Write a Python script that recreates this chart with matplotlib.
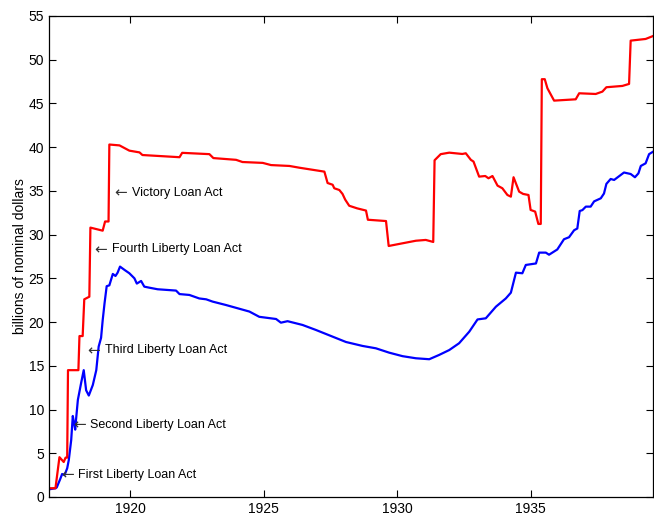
import numpy as np
import matplotlib
matplotlib.use("Agg")
import matplotlib.pyplot as plt

plt.rcParams['font.family'] = ['Liberation Sans', 'DejaVu Sans']

# debt limit (red)
limit_years = [1917.0, 1917.19, 1917.34, 1917.5, 1917.57, 1917.63, 1917.66, 1918.05, 1918.09,
               1918.21, 1918.27, 1918.46, 1918.5, 1918.96, 1919.05, 1919.18, 1919.21, 1919.59,
               1919.96, 1920.34, 1920.45, 1921.84, 1921.94, 1922.96, 1923.11, 1923.96, 1924.2,
               1924.96, 1925.27, 1925.96, 1926.33, 1927.27, 1927.39, 1927.58, 1927.64, 1927.83,
               1927.95, 1928.05, 1928.2, 1928.5, 1928.83, 1928.9, 1929.58, 1929.68, 1930.07,
               1930.7, 1931.07, 1931.35, 1931.4, 1931.63, 1931.95, 1932.44, 1932.57, 1932.76,
               1932.86, 1933.07, 1933.3, 1933.42, 1933.57, 1933.76, 1933.94, 1934.13, 1934.26,
               1934.36, 1934.57, 1934.72, 1934.92, 1935.0, 1935.17, 1935.29, 1935.38, 1935.42,
               1935.53, 1935.63, 1935.88, 1936.69, 1936.82, 1937.44, 1937.69, 1937.84, 1938.44,
               1938.69, 1938.75, 1939.31, 1939.6]
limit_vals = [1.0, 1.0, 4.55, 4.0, 4.5, 4.5, 14.5, 14.5, 18.4,
              18.4, 22.6, 22.9, 30.8, 30.45, 31.5, 31.5, 40.3, 40.2,
              39.6, 39.4, 39.1, 38.85, 39.35, 39.2, 38.75, 38.55, 38.3,
              38.2, 37.95, 37.85, 37.65, 37.2, 35.9, 35.7, 35.3, 35.1,
              34.65, 34.0, 33.3, 33.0, 32.75, 31.7, 31.55, 28.7, 28.93,
              29.3, 29.39, 29.16, 38.5, 39.2, 39.37, 39.22, 39.3, 38.55,
              38.35, 36.63, 36.7, 36.44, 36.7, 35.6, 35.3, 34.53, 34.34,
              36.56, 34.91, 34.65, 34.53, 32.82, 32.63, 31.22, 31.22, 47.77,
              47.77, 46.73, 45.32, 45.47, 46.16, 46.08, 46.35, 46.85, 47.0,
              47.23, 52.18, 52.37, 52.72]

# outstanding debt (blue)
debt_years = [1917.0, 1917.2, 1917.24, 1917.37, 1917.44, 1917.53, 1917.63, 1917.69, 1917.78,
              1917.84, 1917.89, 1917.93, 1917.96, 1918.03, 1918.15, 1918.25, 1918.34, 1918.44,
              1918.59, 1918.72, 1918.81, 1918.9, 1918.96, 1919.03, 1919.11, 1919.21, 1919.34,
              1919.44, 1919.52, 1919.61, 1919.78, 1919.96, 1920.15, 1920.24, 1920.4, 1920.52,
              1920.71, 1921.02, 1921.71, 1921.84, 1922.21, 1922.58, 1922.84, 1923.08, 1923.58,
              1924.46, 1924.83, 1925.46, 1925.64, 1925.89, 1926.45, 1926.95, 1927.58, 1928.08,
              1928.7, 1929.2, 1929.7, 1930.2, 1930.7, 1931.2, 1931.57, 1931.95, 1932.32,
              1932.7, 1933.01, 1933.32, 1933.7, 1934.07, 1934.26, 1934.45, 1934.69, 1934.82,
              1935.2, 1935.32, 1935.57, 1935.69, 1936.0, 1936.25, 1936.44, 1936.63, 1936.75,
              1936.84, 1936.94, 1937.07, 1937.25, 1937.38, 1937.63, 1937.75, 1937.84, 1938.0,
              1938.13, 1938.5, 1938.75, 1938.91, 1939.04, 1939.13, 1939.31, 1939.44, 1939.6]
debt_vals = [0.9, 1.0, 1.1, 2.06, 2.63, 2.5, 3.28, 4.23, 6.5,
             9.26, 8.4, 7.7, 8.8, 11.1, 13.0, 14.5, 12.2, 11.6,
             12.8, 14.5, 17.2, 18.2, 20.2, 22.15, 24.1, 24.2, 25.5,
             25.27, 25.65, 26.34, 25.96, 25.58, 25.0, 24.4, 24.7, 24.05,
             23.93, 23.75, 23.6, 23.2, 23.1, 22.7, 22.6, 22.34, 21.95,
             21.2, 20.6, 20.35, 19.93, 20.1, 19.67, 19.1, 18.33, 17.72,
             17.27, 17.0, 16.5, 16.1, 15.86, 15.75, 16.24, 16.8, 17.58,
             18.9, 20.3, 20.43, 21.76, 22.7, 23.36, 25.65, 25.58, 26.53,
             26.7, 27.94, 27.94, 27.7, 28.3, 29.47, 29.7, 30.5, 30.7,
             32.7, 32.8, 33.2, 33.2, 33.8, 34.15, 34.7, 35.8, 36.36,
             36.25, 37.1, 36.93, 36.56, 37.0, 37.85, 38.15, 39.2, 39.5]

# annotations: label and the point the arrow starts at
act_labels = ["First Liberty Loan Act", "Second Liberty Loan Act", "Third Liberty Loan Act",
              "Fourth Liberty Loan Act", "Victory Loan Act"]
act_years = [1917.4, 1917.84, 1918.4, 1918.65, 1919.4]
act_vals = [2.55, 8.25, 16.75, 28.3, 34.8]


def main():
    fig = plt.figure(figsize=(6.54, 5.15), dpi=100)
    ax = fig.add_axes([0.075, 0.035, 0.924, 0.934])

    ax.plot(debt_years, debt_vals, color='#0000FF', lw=1.6)
    ax.plot(limit_years, limit_vals, color='#FF0000', lw=1.6)

    for lab, x, y in zip(act_labels, act_years, act_vals):
        # long thin arrow like matlab's \leftarrow, then the label
        ax.text(x, y, "\u2190", fontsize=11, va='center', ha='left', family='DejaVu Sans',
                color='#333333')
        ax.annotate(lab, xy=(x, y), xytext=(12.5, 0), textcoords='offset points',
                    fontsize=9, va='center', ha='left')

    ax.set_xlim(1916.95, 1939.6)
    ax.set_ylim(0, 55)
    ax.set_xticks([1920, 1925, 1930, 1935])
    ax.set_yticks(np.arange(0, 56, 5))
    ax.tick_params(direction='in', top=True, right=True, length=5, labelsize=10, width=0.8)
    ax.set_ylabel("billions of nominal dollars", fontsize=10, labelpad=1)
    for s in ax.spines.values():
        s.set_linewidth(0.9)

    fig.savefig("out.png", dpi=100)


if __name__ == "__main__":
    main()
